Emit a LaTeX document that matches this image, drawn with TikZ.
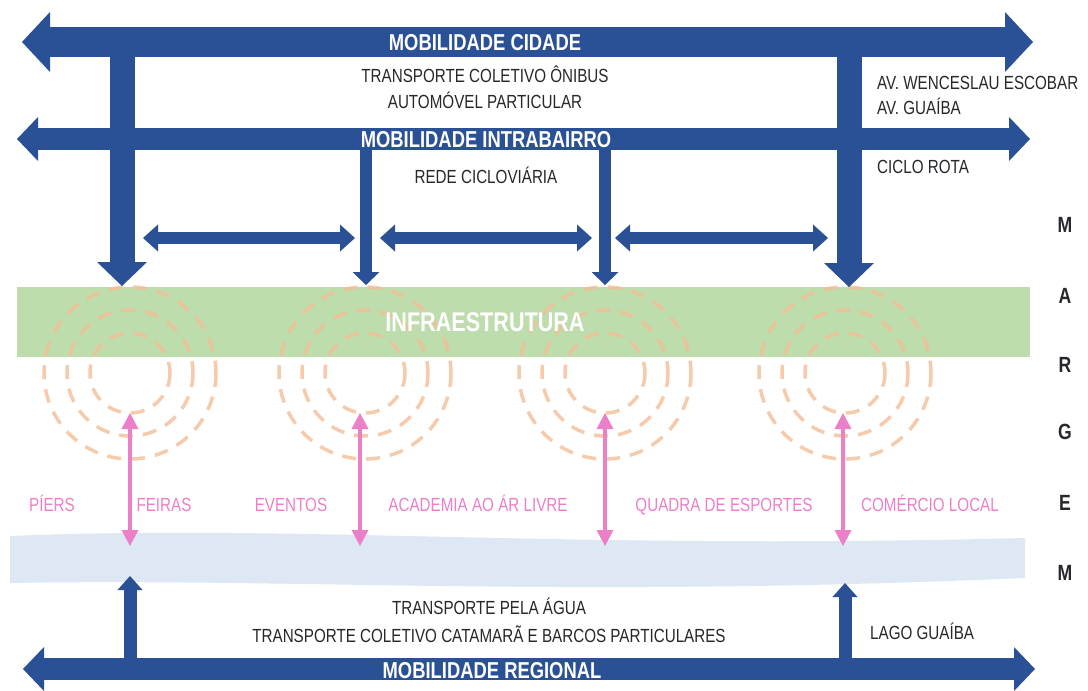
\documentclass[tikz,border=0pt]{standalone}
\usepackage{fontspec}
\setmainfont{Liberation Sans}[FakeStretch=0.8]
\usetikzlibrary{arrows.meta}
\definecolor{navy}{RGB}{42,80,150}
\definecolor{greenband}{RGB}{190,221,172}
\definecolor{peach}{RGB}{244,190,150}
\definecolor{water}{RGB}{221,232,244}
\definecolor{pinkc}{RGB}{236,128,200}
\definecolor{dark}{RGB}{40,40,44}
\tikzset{
  dk/.style={text=dark, inner sep=0pt, text height=13.6pt, text depth=0pt, font=\fontsize{19}{21}\selectfont},
  wt/.style={text=white, inner sep=0pt, text height=16.5pt, text depth=0pt, font=\bfseries\fontsize{23}{25}\selectfont},
  pk/.style={text=pinkc, inner sep=0pt, text height=13.6pt, text depth=0pt, font=\fontsize{19}{21}\selectfont},
  mg/.style={text=dark, inner sep=0pt, text height=15.8pt, text depth=0pt, font=\bfseries\fontsize{22}{24}\selectfont},
  topflow/.style={draw=navy, line width=30pt,
    arrows={Triangle[length=28pt,width=60pt,line width=0pt]-Triangle[length=28pt,width=60pt,line width=0pt]}},
  midflow/.style={draw=navy, line width=22pt,
    arrows={Triangle[length=21pt,width=44pt,line width=0pt]-Triangle[length=21pt,width=44pt,line width=0pt]}},
  fatdown/.style={draw=navy, line width=25pt,
    arrows={-Triangle[length=24pt,width=50pt,line width=0pt]}},
  thindown/.style={draw=navy, line width=12pt,
    arrows={-Triangle[length=13pt,width=27pt,line width=0pt]}},
  hlink/.style={draw=navy, line width=12pt,
    arrows={Triangle[length=15pt,width=27pt,line width=0pt]-Triangle[length=15pt,width=27pt,line width=0pt]}},
  upflow/.style={draw=navy, line width=13pt,
    arrows={-Triangle[length=14pt,width=25pt,line width=0pt]}},
  pinkflow/.style={draw=pinkc, line width=4pt,
    arrows={Triangle[length=16pt,width=17pt,line width=0pt]-Triangle[length=16pt,width=17pt,line width=0pt]}},
  ring/.style={draw=peach, line width=3.5pt, dash pattern=on 14pt off 10pt, opacity=0.8}
}
\begin{document}
\begin{tikzpicture}[x=1pt,y=-1pt]
\useasboundingbox (0,0) rectangle (1088,691);
\fill[white] (0,0) rectangle (1088,691);

% green infrastructure band
\node[fill=greenband, minimum width=1013pt, minimum height=70pt, inner sep=0pt] (band) at (523.5,322) {};

% dashed rings
\foreach \cx/\nm in {130/a,365/b,605/c,845/d}{
  \coordinate (ring\nm) at (\cx,373);
  \draw[ring] (ring\nm) circle[radius=40];
  \draw[ring] (ring\nm) circle[radius=63];
  \draw[ring] (ring\nm) circle[radius=86];
}
\node[text=white, inner sep=0pt, text height=19pt, text depth=0pt, font=\bfseries\fontsize{27}{29}\selectfont] (infra) at (485,322) {INFRAESTRUTURA};

% water band
\fill[water] (10,536) .. controls (300,524) and (560,550) .. (1025,538) -- (1025,578) .. controls (560,598) and (300,578) .. (10,583) -- cycle;

% coordinates
\coordinate (cL) at (22,42);   \coordinate (cR) at (1033,42);
\coordinate (iL) at (17,139);  \coordinate (iR) at (1030,139);
\coordinate (rL) at (23,669);  \coordinate (rR) at (1035,669);
\coordinate (v1s) at (122,42);  \coordinate (v1e) at (122,286);
\coordinate (v4s) at (849,42);  \coordinate (v4e) at (849,287);
\coordinate (v2s) at (366,139); \coordinate (v2e) at (366,285);
\coordinate (v3s) at (605,139); \coordinate (v3e) at (605,285);
\coordinate (h1a) at (143,238); \coordinate (h1b) at (355,238);
\coordinate (h2a) at (380,238); \coordinate (h2b) at (592,238);
\coordinate (h3a) at (615,238); \coordinate (h3b) at (828,238);
\coordinate (u1s) at (130,669); \coordinate (u1e) at (130,576);
\coordinate (u2s) at (845,669); \coordinate (u2e) at (845,583);

% blue flows
\draw[topflow] (cL) -- (cR);
\draw[midflow] (iL) -- (iR);
\draw[midflow] (rL) -- (rR);
\draw[fatdown] (v1s) -- (v1e);
\draw[fatdown] (v4s) -- (v4e);
\draw[thindown] (v2s) -- (v2e);
\draw[thindown] (v3s) -- (v3e);
\draw[hlink] (h1a) -- (h1b);
\draw[hlink] (h2a) -- (h2b);
\draw[hlink] (h3a) -- (h3b);
\draw[upflow] (u1s) -- (u1e);
\draw[upflow] (u2s) -- (u2e);

% pink links
\foreach \px/\nm in {130/a,360/b,605/c,843/d}{
  \coordinate (pt\nm) at (\px,413);
  \coordinate (pb\nm) at (\px,546);
  \draw[pinkflow] (pt\nm) -- (pb\nm);
}

% texts
\node[wt] (mc) at (485,42) {MOBILIDADE CIDADE};
\node[dk] (tco) at (485,76) {TRANSPORTE COLETIVO ÔNIBUS};
\node[dk] (apa) at (485,102) {AUTOMÓVEL PARTICULAR};
\node[wt] (mi) at (486,139) {MOBILIDADE INTRABAIRRO};
\node[dk] (rcv) at (486,177) {REDE CICLOVIÁRIA};
\node[dk, anchor=west] (av1) at (877,83) {AV. WENCESLAU ESCOBAR};
\node[dk, anchor=west] (av2) at (877,108) {AV. GUAÍBA};
\node[dk, anchor=west] (cro) at (877,167) {CICLO ROTA};

\node[pk] (piers) at (52,505) {PÍERS};
\node[pk] (feiras) at (164,505) {FEIRAS};
\node[pk] (eventos) at (291,505) {EVENTOS};
\node[pk] (acad) at (478,505) {ACADEMIA AO ÁR LIVRE};
\node[pk] (quadra) at (724,505) {QUADRA DE ESPORTES};
\node[pk] (comercio) at (930,505) {COMÉRCIO LOCAL};

\node[dk] (tpa) at (489,608) {TRANSPORTE PELA ÁGUA};
\node[dk] (tcc) at (489,636) {TRANSPORTE COLETIVO CATAMARÃ E BARCOS PARTICULARES};
\node[dk, anchor=west] (lago) at (870,633) {LAGO GUAÍBA};
\node[wt] (mr) at (492,670) {MOBILIDADE REGIONAL};

\node[mg] (m1) at (1065,225) {M};
\node[mg] (m2) at (1065,296) {A};
\node[mg] (m3) at (1065,365) {R};
\node[mg] (m4) at (1065,432) {G};
\node[mg] (m5) at (1065,503) {E};
\node[mg] (m6) at (1065,573) {M};
\end{tikzpicture}
\end{document}
